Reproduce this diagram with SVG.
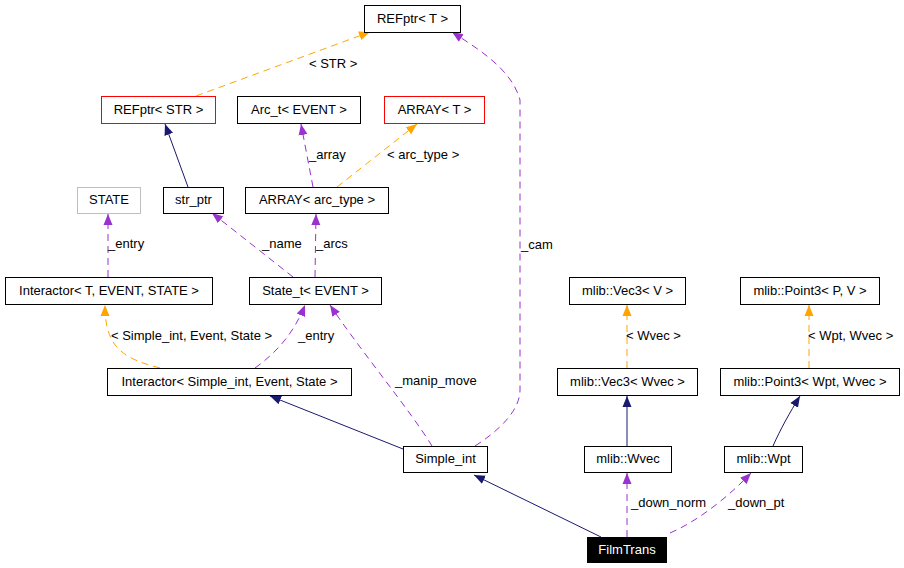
<svg xmlns="http://www.w3.org/2000/svg" width="904" height="568" viewBox="0 0 904 568">
<defs>
<marker id="aN" markerUnits="userSpaceOnUse" markerWidth="12" markerHeight="10" refX="11" refY="5" orient="auto"><path d="M0,0.5 L11,5 L0,9.5 Z" fill="#191970"/></marker>
<marker id="aP" markerUnits="userSpaceOnUse" markerWidth="12" markerHeight="10" refX="11" refY="5" orient="auto"><path d="M0,0.5 L11,5 L0,9.5 Z" fill="#9a32cd"/></marker>
<marker id="aO" markerUnits="userSpaceOnUse" markerWidth="12" markerHeight="10" refX="11" refY="5" orient="auto"><path d="M0,0.5 L11,5 L0,9.5 Z" fill="#ffa500"/></marker>
</defs>
<style>
rect{fill:#fff;stroke:#000;stroke-width:1}
.red rect{stroke:#ff0000}
.grey rect{stroke:#bfbfbf}
.blk rect{fill:#000}
text{font-family:"Liberation Sans",Arial,sans-serif;font-size:13px;fill:#000}
.blk text{fill:#fff}
.n text{text-anchor:middle}
.e path{fill:none;stroke-width:1}
.nv{stroke:#191970;marker-end:url(#aN)}
.pu{stroke:#9a32cd;stroke-dasharray:7,5;marker-end:url(#aP)}
.or{stroke:#ffa500;stroke-dasharray:7,5;marker-end:url(#aO)}
</style>
<rect x="0" y="0" width="904" height="568" style="fill:#fff;stroke:none"/>
<g id="edges" class="e">
<path class="or" d="M196,96 L370,32"/>
<text x="309" y="68">&lt; STR &gt;</text>
<path class="nv" d="M188,187 L165,124"/>
<path class="pu" d="M313,187 L301,124"/>
<text x="309" y="159">_array</text>
<path class="or" d="M337,187 L417,124"/>
<text x="387" y="159">&lt; arc_type &gt;</text>
<path class="pu" d="M108,277 L108,214"/>
<text x="108" y="248">_entry</text>
<path class="pu" d="M293,277 L212,213"/>
<text x="262" y="248">_name</text>
<path class="pu" d="M315,277 L316,214"/>
<text x="316" y="248">_arcs</text>
<path class="or" d="M160,368 C120,358 105,345 105,305"/>
<text x="111" y="340">&lt; Simple_int, Event, State &gt;</text>
<path class="pu" d="M255,368 C280,350 295,330 305,305"/>
<text x="298" y="340">_entry</text>
<path class="pu" d="M432,446 C410,410 360,350 330,305"/>
<text x="395" y="385">_manip_move</text>
<path class="pu" d="M475,446 C500,430 520,410 520,390 L520,100 C512,70 480,50 452,32"/>
<text x="521" y="249">_cam</text>
<path class="nv" d="M403,449 L270,396"/>
<path class="nv" d="M601,537 L474,475"/>
<path class="pu" d="M627,537 L627,473"/>
<text x="631" y="507">_down_norm</text>
<path class="pu" d="M670,533 C700,520 730,495 751,473"/>
<text x="728" y="507">_down_pt</text>
<path class="nv" d="M627,446 L627,396"/>
<path class="nv" d="M773,446 C780,430 790,412 800,396"/>
<path class="or" d="M627,368 L627,305"/>
<text x="626" y="340">&lt; Wvec &gt;</text>
<path class="or" d="M809,368 L809,305"/>
<text x="808" y="340">&lt; Wpt, Wvec &gt;</text>
</g>
<g id="n_REFptrT" class="n"><rect x="364.5" y="5.5" width="96" height="27"/><text x="412.5" y="23">REFptr&lt; T &gt;</text></g>
<g id="n_REFptrSTR" class="n red"><rect x="101.5" y="96.5" width="114" height="27"/><text x="158.5" y="114">REFptr&lt; STR &gt;</text></g>
<g id="n_Arc_t" class="n"><rect x="237.5" y="96.5" width="123" height="27"/><text x="299" y="114">Arc_t&lt; EVENT &gt;</text></g>
<g id="n_ARRAYT" class="n red"><rect x="384.5" y="96.5" width="100" height="27"/><text x="434.5" y="114">ARRAY&lt; T &gt;</text></g>
<g id="n_STATE" class="n grey"><rect x="77.5" y="187.5" width="63" height="26"/><text x="109" y="204">STATE</text></g>
<g id="n_str_ptr" class="n"><rect x="163.5" y="187.5" width="60" height="26"/><text x="193.5" y="204">str_ptr</text></g>
<g id="n_ARRAYarc" class="n"><rect x="245.5" y="187.5" width="143" height="26"/><text x="317" y="204">ARRAY&lt; arc_type &gt;</text></g>
<g id="n_InteractorT" class="n"><rect x="5.5" y="277.5" width="207" height="27"/><text x="109" y="295">Interactor&lt; T, EVENT, STATE &gt;</text></g>
<g id="n_State_t" class="n"><rect x="249.5" y="277.5" width="132" height="27"/><text x="315.5" y="295">State_t&lt; EVENT &gt;</text></g>
<g id="n_InteractorSI" class="n"><rect x="107.5" y="368.5" width="244" height="27"/><text x="229.5" y="386">Interactor&lt; Simple_int, Event, State &gt;</text></g>
<g id="n_Simple_int" class="n"><rect x="403.5" y="446.5" width="84" height="26"/><text x="445.5" y="463">Simple_int</text></g>
<g id="n_Vec3V" class="n"><rect x="569.5" y="277.5" width="116" height="27"/><text x="627.5" y="295">mlib::Vec3&lt; V &gt;</text></g>
<g id="n_Point3PV" class="n"><rect x="740.5" y="277.5" width="139" height="27"/><text x="810" y="295">mlib::Point3&lt; P, V &gt;</text></g>
<g id="n_Vec3Wvec" class="n"><rect x="557.5" y="368.5" width="140" height="27"/><text x="627.5" y="386">mlib::Vec3&lt; Wvec &gt;</text></g>
<g id="n_Point3WptWvec" class="n"><rect x="720.5" y="368.5" width="179" height="27"/><text x="810" y="386">mlib::Point3&lt; Wpt, Wvec &gt;</text></g>
<g id="n_Wvec" class="n"><rect x="584.5" y="446.5" width="87" height="26"/><text x="628" y="463">mlib::Wvec</text></g>
<g id="n_Wpt" class="n"><rect x="724.5" y="446.5" width="78" height="26"/><text x="763.5" y="463">mlib::Wpt</text></g>
<g id="n_FilmTrans" class="n blk"><rect x="587.5" y="537.5" width="79" height="25"/><text x="627" y="554">FilmTrans</text></g>
</svg>
